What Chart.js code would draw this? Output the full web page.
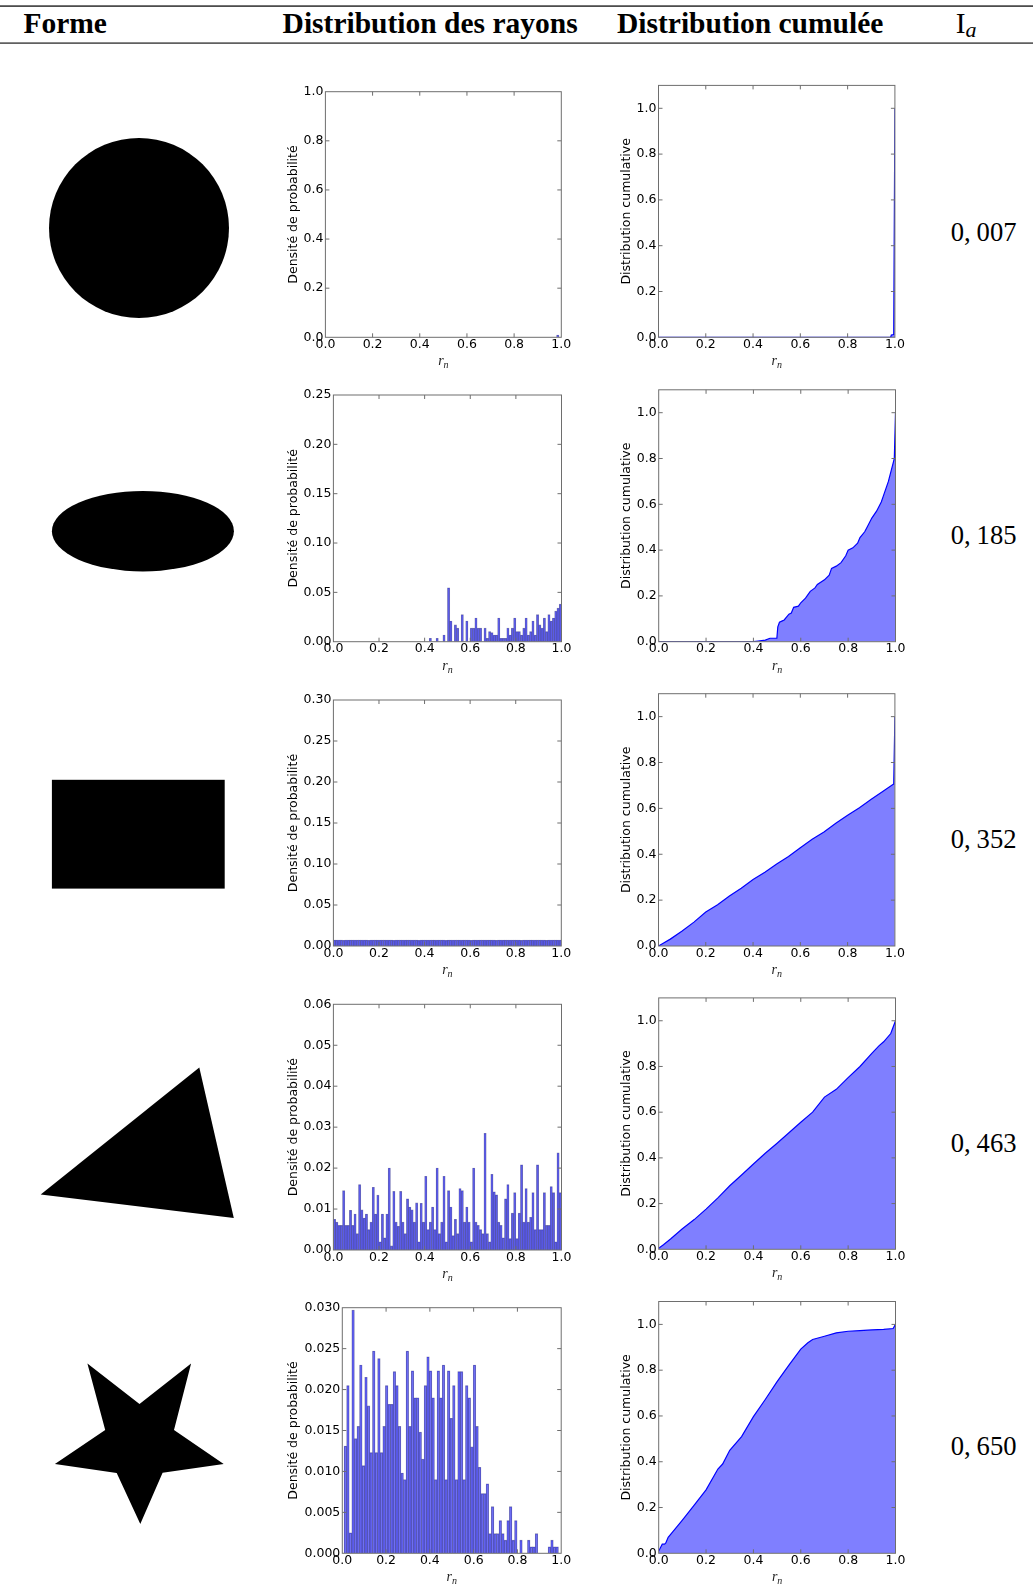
<!DOCTYPE html>
<html><head><meta charset="utf-8">
<script src="https://cdn.jsdelivr.net/npm/chart.js@4.4.0/dist/chart.umd.min.js"></script>
<style>
html,body{margin:0;padding:0;background:#fff;}
#page{position:relative;width:1033px;height:1594px;overflow:hidden;background:#fff;}
#page canvas{position:absolute;}
#deco{position:absolute;left:0;top:0;}
</style></head><body><div id="page">
<svg id="deco" width="1033" height="1594" xmlns="http://www.w3.org/2000/svg">
  <rect x="0" y="5.3" width="1033" height="1.6" fill="#3a3a3a"/>
  <rect x="0" y="42.4" width="1033" height="1.4" fill="#3a3a3a"/>
  <g font-family="Liberation Serif" font-weight="bold" font-size="29.5" fill="#000">
    <text x="23.4" y="33.3">Forme</text>
    <text x="282.6" y="33.3">Distribution des rayons</text>
    <text x="617" y="33.3">Distribution cumulée</text>
  </g>
  <text x="955.7" y="33.3" font-family="Liberation Serif" font-size="29.5" fill="#000">I</text>
  <text x="965.5" y="37" font-family="Liberation Serif" font-style="italic" font-size="22" fill="#000">a</text>
  <g fill="#000">
    <circle cx="139" cy="228" r="90"/>
    <ellipse cx="142.9" cy="531.2" rx="91" ry="40.2"/>
    <rect x="51.9" y="779.8" width="172.8" height="108.8"/>
    <polygon points="40.7,1194.6 199.3,1067.5 233.8,1218"/>
    <polygon points="87.4,1363.4 139.5,1404 191.1,1363.4 174,1430 223.7,1464 162.6,1472.7 140.3,1524 116.7,1473 54.9,1464 105.2,1430"/>
  </g>
  <g id="iaGroup" font-family="Liberation Serif" font-size="26.6" fill="#000"></g>
</svg>
</div>
<script>
// ---------------- data ----------------
const iaValues = ['0,007', '0,185', '0,352', '0,463', '0,650'];

// histogram bins: 100 bins of width 0.01 starting at 0 (rows 1-4)
const HIST_START = 0.0, HIST_WIDTH = 0.01;
// star histogram: 83 bins of width 0.0118 starting at 0.008
const STAR_START = 0.008, STAR_WIDTH = 0.0118;

const circleHist = [
  0,0,0,0,0,0,0,0,0,0, 0,0,0,0,0,0,0,0,0,0,
  0,0,0,0,0,0,0,0,0,0, 0,0,0,0,0,0,0,0,0,0,
  0,0,0,0,0,0,0,0,0,0, 0,0,0,0,0,0,0,0,0,0,
  0,0,0,0,0,0,0,0,0,0, 0,0,0,0,0,0,0,0,0,0,
  0,0,0,0,0,0,0,0,0,0, 0,0,0,0,0,0,0,0,0.009,0
];
const ellipseHist = [
  0,0,0,0,0,0,0,0,0,0, 0,0,0,0,0,0,0,0,0,0,
  0,0,0,0,0,0,0,0,0,0, 0,0,0,0,0,0,0,0,0,0,
  0,0,0.0034,0,0,0.0034,0,0,0.0068,0,
  0.0547,0.021,0,0.017,0.0137,0,0.0274,0,0.021,0,
  0.0137,0.0137,0.024,0.0137,0.0137,0,0.0137,0.0034,0.0103,0.0092,
  0.0068,0.0068,0.024,0.0034,0.0034,0.0034,0.0137,0.0068,0.0137,0.024,
  0.0103,0.0103,0.0068,0.0137,0.024,0.0068,0.0103,0.021,0.0068,0.0274,
  0.017,0.0137,0.024,0.0103,0.0274,0.021,0.024,0.031,0.034,0.038
];
const rectHist = [
  0.0072,0.0072,0.0072,0.0072,0.0070,0.0072,0.0072,0.0072,0.0072,0.0072,
  0.0072,0.0072,0.0072,0.0072,0.0072,0.0070,0.0072,0.0072,0.0072,0.0072,
  0.0072,0.0072,0.0072,0.0072,0.0072,0.0072,0.0070,0.0072,0.0072,0.0072,
  0.0072,0.0072,0.0072,0.0072,0.0072,0.0072,0.0072,0.0070,0.0072,0.0072,
  0.0072,0.0072,0.0072,0.0072,0.0072,0.0072,0.0072,0.0072,0.0072,0.0070,
  0.0072,0.0072,0.0072,0.0072,0.0072,0.0072,0.0072,0.0072,0.0072,0.0072,
  0.0070,0.0072,0.0072,0.0072,0.0072,0.0072,0.0072,0.0072,0.0072,0.0072,
  0.0072,0.0070,0.0072,0.0072,0.0072,0.0072,0.0072,0.0072,0.0072,0.0072,
  0.0072,0.0072,0.0070,0.0072,0.0072,0.0072,0.0072,0.0072,0.0072,0.0072,
  0.0072,0.0072,0.0072,0.0070,0.0072,0.0072,0.0072,0.0072,0.0072,0.0072
];
const triHist = [
  0.0075,0.0068,0.006,0.006,0.0145,0.006,0.006,0.0097,0.006,0.0088,
  0.004,0.016,0.0098,0.0078,0.0088,0.005,0.0068,0.0153,0.0088,0.0134,
  0.002,0.0088,0.003,0.0088,0.020,0.001,0.0143,0.0068,0.0058,0.0143,
  0.0068,0.004,0.0125,0.0105,0.0098,0.0068,0.0115,0.002,0.0114,0.0068,
  0.018,0.005,0.0068,0.0105,0.005,0.020,0.004,0.0068,0.018,0.002,
  0.0145,0.0105,0.0035,0.0075,0.004,0.015,0.0145,0.0068,0.0105,0.0068,
  0.002,0.020,0.0068,0.006,0.005,0.004,0.0285,0.004,0.002,0.0185,
  0.0142,0.0135,0.0068,0.006,0.003,0.0125,0.016,0.0028,0.009,0.014,
  0.0028,0.009,0.0208,0.0068,0.015,0.0068,0.008,0.014,0.005,0.0208,
  0.005,0.005,0.014,0.006,0.006,0.0155,0.014,0.002,0.0237,0.014
];
const starHist = [
  0.0131,0.0205,0.0025,0.0297,0.014,0.0155,0.023,0.0107,0.0215,0.018,
  0.0123,0.0247,0.0123,0.0238,0.0123,0.0155,0.0205,0.0182,0.0182,0.0222,
  0.0205,0.0155,0.0098,0.009,0.0247,0.0155,0.0223,0.019,0.019,0.0148,
  0.0115,0.0205,0.024,0.0223,0.019,0.009,0.0223,0.019,0.023,0.009,
  0.0223,0.0165,0.0205,0.009,0.0222,0.0222,0.009,0.0205,0.019,0.013,
  0.023,0.0155,0.0105,0.0073,0.0073,0.0085,0.0024,0.0057,0.0024,0.0024,
  0.004,0.0024,0.0016,0.004,0.0057,0.0016,0.004,0,0.0016,0,
  0,0.0016,0.0008,0.0008,0.0024,0,0,0,0,0.0008,
  0.0016,0.0008,0.0008
];

// cumulative distributions: (r_n, F)
const circleCumR = [0, 0.982, 0.985, 0.995, 1.0];
const circleCumF = [0, 0, 0.01, 0.012, 1.0];

const ellipseCumR = [0,0.40,0.42,0.45,0.47,0.499,0.503,0.51,0.52,0.53,0.55,0.56,0.57,0.59,0.60,0.62,0.64,0.66,0.67,0.70,0.72,0.73,0.75,0.77,0.79,0.80,0.82,0.84,0.85,0.87,0.88,0.90,0.92,0.94,0.95,0.97,0.99,0.995,1.0];
const ellipseCumF = [0,0,0.003,0.007,0.015,0.015,0.065,0.085,0.09,0.095,0.12,0.125,0.15,0.155,0.17,0.19,0.22,0.235,0.25,0.27,0.29,0.32,0.33,0.345,0.375,0.40,0.41,0.43,0.455,0.48,0.50,0.54,0.57,0.61,0.64,0.70,0.78,0.80,1.0];

const rectCumR = [0,0.02,0.05,0.1,0.15,0.2,0.25,0.3,0.35,0.4,0.45,0.5,0.55,0.6,0.65,0.7,0.75,0.8,0.85,0.9,0.95,0.99,0.995,1.0];
const rectCumF = [0,0.012,0.03,0.065,0.104,0.148,0.18,0.218,0.252,0.29,0.322,0.358,0.39,0.428,0.465,0.497,0.535,0.57,0.603,0.64,0.675,0.703,0.706,1.0];

const triCumR = [0,0.02,0.05,0.1,0.15,0.2,0.25,0.3,0.35,0.4,0.45,0.5,0.55,0.6,0.65,0.7,0.75,0.8,0.85,0.9,0.93,0.95,0.98,1.0];
const triCumF = [0.005,0.02,0.045,0.09,0.13,0.176,0.225,0.278,0.325,0.373,0.42,0.464,0.51,0.556,0.60,0.666,0.70,0.751,0.80,0.857,0.89,0.908,0.944,1.0];

const starCumR = [0,0.01,0.015,0.025,0.03,0.04,0.06,0.08,0.1,0.15,0.2,0.25,0.27,0.3,0.35,0.4,0.45,0.5,0.55,0.6,0.63,0.65,0.7,0.75,0.8,0.85,0.9,0.95,0.99,1.0];
const starCumF = [0.01,0.03,0.04,0.04,0.045,0.07,0.095,0.12,0.145,0.21,0.277,0.368,0.39,0.45,0.51,0.597,0.672,0.75,0.822,0.892,0.92,0.934,0.948,0.963,0.97,0.973,0.976,0.978,0.982,1.0];

// axis settings per row (histogram y max / step / decimals)
const histYMax = [1.0, 0.25, 0.30, 0.06, 0.030];
const histYStep = [0.2, 0.05, 0.05, 0.01, 0.005];
const histYDec = [1, 2, 2, 2, 3];
const CUM_YMAX = 1.1, CUM_YSTEP = 0.2;

const histTitle = 'Densité de probabilité';
const cumTitle = 'Distribution cumulative';

// ---------------- layout ----------------
const layoutHist = [
  {L:325.4, T:91.7,   R:561.3, B:337.3},
  {L:333.4, T:395.0,  R:561.5, B:641.7},
  {L:333.4, T:700.0,  R:561.3, B:946.0},
  {L:333.4, T:1004.3, R:561.5, B:1250.0},
  {L:342.3, T:1307.7, R:561.2, B:1553.3}
];
const layoutCum = [
  {L:658.5, T:85.4,   R:894.9, B:337.3},
  {L:658.7, T:389.8,  R:895.5, B:641.7},
  {L:658.5, T:693.7,  R:894.9, B:946.0},
  {L:658.7, T:997.9,  R:895.5, B:1249.3},
  {L:658.7, T:1301.5, R:895.5, B:1553.3}
];
const iaBaselines = [240.7, 544.3, 847.9, 1151.5, 1455.1];

// Ia values
(function(){
  const g = document.getElementById('iaGroup');
  const NS = 'http://www.w3.org/2000/svg';
  iaValues.forEach((v, i) => {
    const parts = v.split(',');
    const t1 = document.createElementNS(NS, 'text');
    t1.setAttribute('x', 950.7); t1.setAttribute('y', iaBaselines[i]);
    t1.textContent = parts[0] + ',';
    const t2 = document.createElementNS(NS, 'text');
    t2.setAttribute('x', 1016.5); t2.setAttribute('y', iaBaselines[i]);
    t2.setAttribute('text-anchor', 'end');
    t2.textContent = parts[1];
    g.appendChild(t1); g.appendChild(t2);
  });
})();

// ---------------- charts ----------------
Chart.defaults.font.family = 'DejaVu Sans';
Chart.defaults.font.size = 12.5;
Chart.defaults.color = '#000';

const axesDeco = {
  id: 'axesDeco',
  afterDatasetsDraw(chart) {
    const {ctx, chartArea: a, scales: {x, y}} = chart;
    ctx.save();
    ctx.strokeStyle = '#6e6e6e';
    ctx.lineWidth = 1;
    const tl = 4;
    ctx.beginPath();
    x.ticks.forEach(t => {
      if (t.value > x.min + 1e-9 && t.value < x.max - 1e-9) {
        const p = x.getPixelForValue(t.value);
        ctx.moveTo(p, a.bottom); ctx.lineTo(p, a.bottom - tl);
        ctx.moveTo(p, a.top); ctx.lineTo(p, a.top + tl);
      }
    });
    y.ticks.forEach(t => {
      if (t.value > y.min + 1e-9 && t.value < y.max - 1e-9) {
        const p = y.getPixelForValue(t.value);
        ctx.moveTo(a.left, p); ctx.lineTo(a.left + tl, p);
        ctx.moveTo(a.right, p); ctx.lineTo(a.right - tl, p);
      }
    });
    ctx.stroke();
    ctx.strokeRect(a.left, a.top, a.right - a.left, a.bottom - a.top);
    // x axis label r_n
    ctx.fillStyle = '#222';
    ctx.textBaseline = 'alphabetic';
    ctx.font = 'italic 14px "Liberation Serif"';
    const wr = ctx.measureText('r').width;
    ctx.font = 'italic 10px "Liberation Serif"';
    const wn = ctx.measureText('n').width;
    const cx = (a.left + a.right) / 2;
    const x0 = cx - (wr + wn) / 2;
    ctx.font = 'italic 14px "Liberation Serif"';
    ctx.fillText('r', x0, a.bottom + 28);
    ctx.font = 'italic 10px "Liberation Serif"';
    ctx.fillText('n', x0 + wr, a.bottom + 31);
    ctx.restore();
  }
};

const page = document.getElementById('page');

function makeCanvas(geo, titleCx) {
  const padTop = 12, padRight = 16, xAxisH = 38;
  const cl = Math.round(titleCx - 7.5);
  const ct = Math.floor(geo.T - padTop);
  const W = Math.ceil(geo.R + padRight) - cl;
  const H = Math.ceil(geo.B + xAxisH) - ct;
  const c = document.createElement('canvas');
  c.width = W; c.height = H;
  c.style.left = cl + 'px'; c.style.top = ct + 'px';
  c.style.width = W + 'px'; c.style.height = H + 'px';
  page.appendChild(c);
  return {c, yw: geo.L - cl, pt: geo.T - ct, pr: cl + W - geo.R, xh: ct + H - geo.B};
}

function scalesFor(m, yMax, yStep, yDec, title, includeBounds) {
  return {
    x: {
      type: 'linear', min: 0, max: 1, offset: false,
      grid: {display: false, drawTicks: false}, border: {display: false},
      ticks: {stepSize: 0.2, padding: 0, maxRotation: 0, autoSkip: false,
              callback: v => Number(v).toFixed(1)},
      afterFit: s => { s.height = m.xh; s.paddingLeft = 0; s.paddingRight = 0; }
    },
    y: {
      type: 'linear', min: 0, max: yMax,
      grid: {display: false, drawTicks: false}, border: {display: false},
      ticks: {stepSize: yStep, padding: 2, includeBounds: includeBounds, autoSkip: false,
              callback: v => Number(v).toFixed(yDec)},
      title: {display: true, text: title, padding: 0, color: '#000',
              font: {family: 'DejaVu Sans', size: 12.5}},
      afterFit: s => { s.width = m.yw; s.paddingTop = 0; s.paddingBottom = 0; }
    }
  };
}

function histChart(i, values, start, width) {
  const m = makeCanvas(layoutHist[i], 293.5);
  const pts = values.map((v, k) => ({x: start + (k + 0.5) * width, y: v}));
  new Chart(m.c, {
    type: 'bar',
    data: {datasets: [{
      data: pts,
      backgroundColor: 'rgba(0,0,255,0.5)',
      borderColor: 'rgba(30,30,110,0.55)',
      borderWidth: 0.6,
      barPercentage: 1.0, categoryPercentage: 1.0
    }]},
    options: {
      responsive: false, animation: false, devicePixelRatio: 1,
      layout: {padding: {top: m.pt, right: m.pr, left: 0, bottom: 0}},
      plugins: {legend: {display: false}, tooltip: {enabled: false}},
      scales: scalesFor(m, histYMax[i], histYStep[i], histYDec[i], histTitle, true)
    },
    plugins: [axesDeco]
  });
}

function cumChart(i, rs, fs) {
  const m = makeCanvas(layoutCum[i], 626.6);
  const pts = rs.map((r, k) => ({x: r, y: fs[k]}));
  new Chart(m.c, {
    type: 'line',
    data: {datasets: [{
      data: pts,
      borderColor: '#0000ff',
      borderWidth: 1.2,
      backgroundColor: 'rgba(0,0,255,0.5)',
      fill: 'origin',
      pointRadius: 0, tension: 0
    }]},
    options: {
      responsive: false, animation: false, devicePixelRatio: 1,
      layout: {padding: {top: m.pt, right: m.pr, left: 0, bottom: 0}},
      plugins: {legend: {display: false}, tooltip: {enabled: false}},
      scales: scalesFor(m, CUM_YMAX, CUM_YSTEP, 1, cumTitle, false)
    },
    plugins: [axesDeco]
  });
}

histChart(0, circleHist, HIST_START, HIST_WIDTH);
histChart(1, ellipseHist, HIST_START, HIST_WIDTH);
histChart(2, rectHist, HIST_START, HIST_WIDTH);
histChart(3, triHist, HIST_START, HIST_WIDTH);
histChart(4, starHist, STAR_START, STAR_WIDTH);

cumChart(0, circleCumR, circleCumF);
cumChart(1, ellipseCumR, ellipseCumF);
cumChart(2, rectCumR, rectCumF);
cumChart(3, triCumR, triCumF);
cumChart(4, starCumR, starCumF);
</script>
</body></html>
